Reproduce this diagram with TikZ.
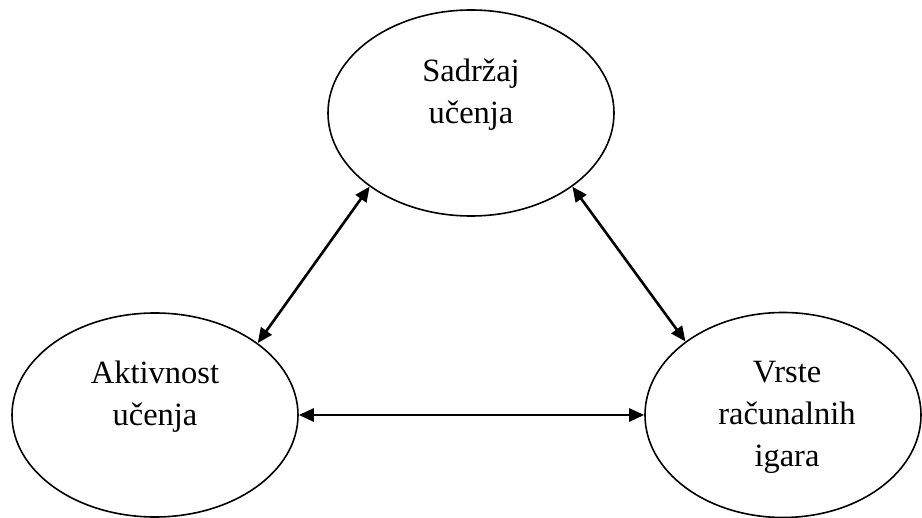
\documentclass[tikz,border=0pt]{standalone}
\usepackage{fontspec}
\setmainfont{Liberation Serif}
\usepackage{xcolor}
\usetikzlibrary{shapes.geometric,arrows.meta}
\definecolor{bg}{HTML}{FFFFFF}
\definecolor{ink}{HTML}{000000}
\tikzset{
  oval/.style={ellipse, draw=ink, line width=1.6pt, inner sep=0pt},
  link/.style={draw=ink, line width=2.6pt, {Triangle[length=15pt,width=13pt]}-{Triangle[length=15pt,width=13pt]}},
  lab/.style={text=ink, font=\fontsize{32.5}{42}\selectfont, align=center},
}

\begin{document}
\begin{tikzpicture}[x=1pt,y=-1pt]
  \useasboundingbox[fill=bg] (0,0) rectangle (922,518);

  % ellipses
  \node[oval, minimum width=286pt, minimum height=206pt] (sadrzaj) at (471,113) {};
  \node[oval, minimum width=286pt, minimum height=204pt] (aktivnost) at (155,415) {};
  \node[oval, minimum width=276pt, minimum height=205pt] (vrste) at (783,415) {};

  % texts
  \node[lab] (sadrzajlab) at (471,95) {Sadržaj\\učenja};
  \node[lab] (aktivnostlab) at (155,397) {Aktivnost\\učenja};
  \node[lab] (vrstelab) at (787,417) {Vrste\\računalnih\\igara};

  % arrows
  \draw[link] (sadrzaj.216) -- (aktivnost.35);
  \draw[link] (sadrzaj.324) -- (vrste.143);
  \draw[link] (aktivnost.east) -- (vrste.west);
\end{tikzpicture}
\end{document}
